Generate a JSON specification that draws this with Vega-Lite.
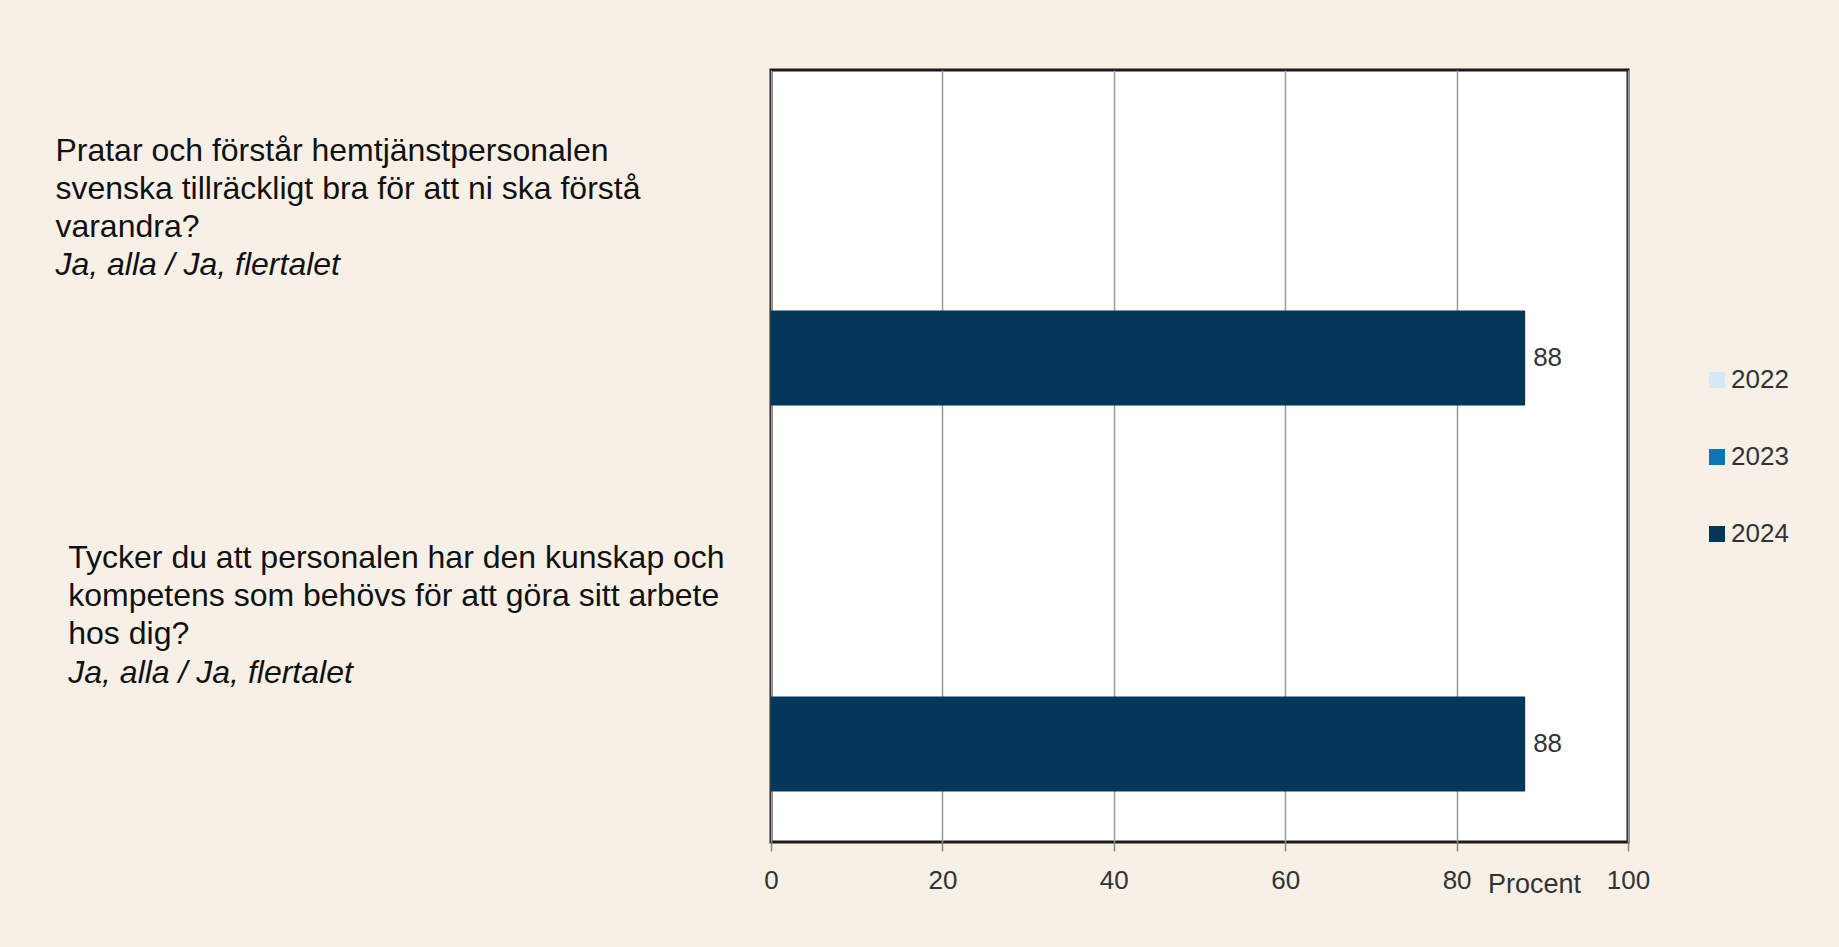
{
  "$schema": "https://vega.github.io/schema/vega-lite/v6.json",
  "width": 857,
  "height": 772,
  "autosize": {"type": "none"},
  "padding": {"left": 771, "top": 70, "right": 211, "bottom": 105},
  "background": "#f7f0e7",
  "config": {
    "font": "Liberation Sans",
    "view": {"fill": "white", "stroke": "#1a1a1a", "strokeWidth": 3}
  },
  "data": {
    "values": [
      {"id": 1, "question": "Pratar och förstår hemtjänstpersonalen svenska tillräckligt bra för att ni ska förstå varandra?", "label": "Pratar och förstår hemtjänstpersonalen\nsvenska tillräckligt bra för att ni ska förstå\nvarandra?", "answer": "Ja, alla / Ja, flertalet", "year": "2024", "value": 88},
      {"id": 2, "question": "Tycker du att personalen har den kunskap och kompetens som behövs för att göra sitt arbete hos dig?", "label": "Tycker du att personalen har den kunskap och\nkompetens som behövs för att göra sitt arbete\nhos dig?", "answer": "Ja, alla / Ja, flertalet", "year": "2024", "value": 88}
    ]
  },
  "encoding": {
    "y": {"field": "question", "type": "nominal", "sort": null, "axis": null,
      "scale": {"paddingInner": 0.262, "paddingOuter": 0.131}}
  },
  "layer": [
    {
      "mark": {"type": "bar"},
      "encoding": {
        "x": {"field": "value", "type": "quantitative", "scale": {"domain": [0, 100], "nice": false},
          "axis": {"title": "Procent", "values": [0, 20, 40, 60, 80, 100], "grid": true, "gridColor": "#9a9a9a", "gridWidth": 1.5,
            "domain": false, "ticks": true, "tickColor": "#888888", "tickSize": 9, "tickWidth": 1.5,
            "labelFont": "Liberation Sans", "labelFontSize": 26, "labelColor": "#333333", "labelPadding": 16, "labelFlush": false,
            "titleFont": "Liberation Sans", "titleFontSize": 27, "titleFontWeight": "normal", "titleColor": "#333333",
            "titleX": 763, "titleY": 42, "titleAlign": "center", "titleBaseline": "middle"}},
        "yOffset": {"field": "year", "type": "nominal", "scale": {"domain": ["2022", "2023", "2024"], "paddingInner": 0, "paddingOuter": 0}},
        "color": {"field": "year", "type": "nominal",
          "scale": {"domain": ["2022", "2023", "2024"], "range": ["#d3e9f3", "#0a77b3", "#02375a"]},
          "legend": {"title": null, "orient": "none", "legendX": 933, "legendY": 297, "symbolType": "square", "symbolSize": 256,
            "symbolStrokeWidth": 0, "labelFontSize": 26, "labelColor": "#333333", "labelOffset": 1, "rowPadding": 51, "padding": 0}}
      }
    },
    {
      "mark": {"type": "text", "align": "left", "baseline": "middle", "dx": 8, "fontSize": 26, "color": "#333333"},
      "encoding": {
        "x": {"field": "value", "type": "quantitative"},
        "yOffset": {"field": "year", "type": "nominal"},
        "text": {"field": "value", "type": "quantitative"}
      }
    },
    {
      "transform": [{"filter": "datum.id === 1"}],
      "mark": {"type": "text", "align": "left", "baseline": "alphabetic", "lineBreak": "\n", "lineHeight": 38, "fontSize": 32, "color": "#111111", "dy": -102},
      "encoding": {"x": {"datum": -83.5, "type": "quantitative"}, "text": {"field": "label", "type": "nominal"}}
    },
    {
      "transform": [{"filter": "datum.id === 1"}],
      "mark": {"type": "text", "align": "left", "baseline": "alphabetic", "fontSize": 32, "fontStyle": "italic", "color": "#111111", "dy": 12},
      "encoding": {"x": {"datum": -83.5, "type": "quantitative"}, "text": {"field": "answer", "type": "nominal"}}
    },
    {
      "transform": [{"filter": "datum.id === 2"}],
      "mark": {"type": "text", "align": "left", "baseline": "alphabetic", "lineBreak": "\n", "lineHeight": 38, "fontSize": 32, "color": "#111111", "dy": -81},
      "encoding": {"x": {"datum": -82, "type": "quantitative"}, "text": {"field": "label", "type": "nominal"}}
    },
    {
      "transform": [{"filter": "datum.id === 2"}],
      "mark": {"type": "text", "align": "left", "baseline": "alphabetic", "fontSize": 32, "fontStyle": "italic", "color": "#111111", "dy": 34},
      "encoding": {"x": {"datum": -82, "type": "quantitative"}, "text": {"field": "answer", "type": "nominal"}}
    }
  ]
}
